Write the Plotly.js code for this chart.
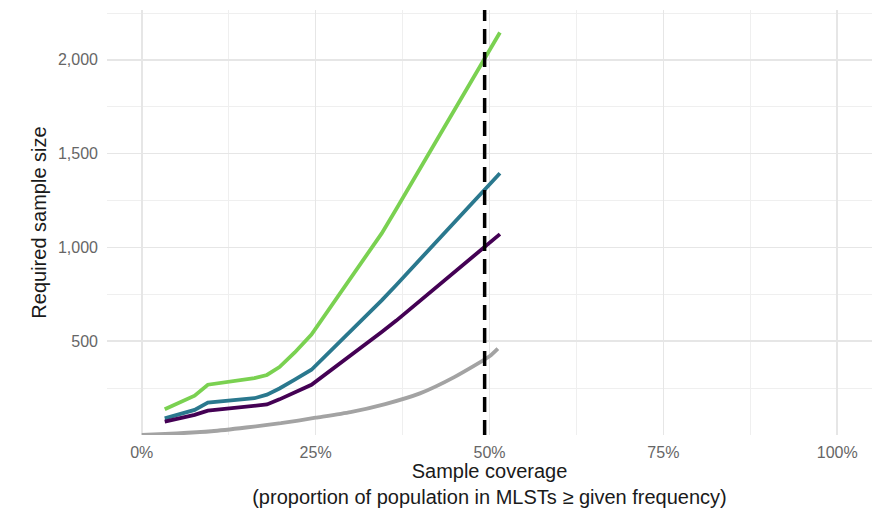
<!DOCTYPE html>
<html>
<head>
<meta charset="utf-8">
<script src="https://cdn.plot.ly/plotly-3.0.1.min.js"></script>
<style>html,body{margin:0;padding:0;background:#fff;}#chart{width:882px;height:508px;}</style>
</head>
<body>
<div id="chart"></div>
<script>
// Coverage (x) for the three coloured series
const coverage = [0.033, 0.076, 0.095, 0.162, 0.180, 0.198, 0.220, 0.244, 0.345, 0.366, 0.515];
const seriesGreen  = [137, 210, 268, 303, 320, 362, 440, 536, 1075, 1205, 2146];
const seriesTeal   = [89, 134, 173, 196, 215, 248, 295, 348, 718, 800, 1396];
const seriesPurple = [71, 107, 130, 152, 163, 190, 228, 268, 549, 610, 1071];

// Grey reference curve
const coverageGrey = [0, 0.05, 0.10, 0.15, 0.20, 0.25, 0.30, 0.35, 0.40, 0.45, 0.50, 0.512];
const seriesGrey   = [0, 8, 20, 40, 63, 92, 122, 165, 222, 310, 420, 461];

// Dashed reference line position
const cutoff = [0.493];

const xTickVals = [0, 0.25, 0.5, 0.75, 1];
const xTickText = ['0%', '25%', '50%', '75%', '100%'];
const xMinor = [0.125, 0.375, 0.625, 0.875];
const yTickVals = [500, 1000, 1500, 2000];
const yTickText = ['500', '1,000', '1,500', '2,000'];
const yMinor = [250, 750, 1250, 1750, 2250];

const font = '"Liberation Sans", Arial, Helvetica, sans-serif';

const traces = [
  {x: coverageGrey, y: seriesGrey, mode: 'lines', line: {color: '#A3A3A3', width: 3.8, shape: 'spline', smoothing: 0.6}, showlegend: false, hoverinfo: 'skip'},
  {x: coverage, y: seriesGreen, mode: 'lines', line: {color: '#7AD151', width: 3.8}, showlegend: false},
  {x: coverage, y: seriesTeal, mode: 'lines', line: {color: '#2A788E', width: 3.8}, showlegend: false},
  {x: coverage, y: seriesPurple, mode: 'lines', line: {color: '#440154', width: 3.8}, showlegend: false}
];

const layout = {
  width: 882, height: 508,
  margin: {l: 107, r: 10, t: 10, b: 73},
  paper_bgcolor: '#fff', plot_bgcolor: '#fff',
  font: {family: font},
  showlegend: false,
  xaxis: {
    range: [-0.05, 1.05],
    tickmode: 'array', tickvals: xTickVals, ticktext: xTickText,
    tickfont: {size: 16, color: '#666666'},
    ticks: '', ticklabelstandoff: 6,
    showgrid: true, gridcolor: '#E6E6E6', gridwidth: 1.6,
    minor: {tickmode: 'array', tickvals: xMinor, showgrid: true, gridcolor: '#EFEFEF', gridwidth: 1},
    zeroline: false, showline: false,
    title: {text: 'Sample coverage<br>(proportion of population in MLSTs ≥ given frequency)', font: {size: 20, color: '#1a1a1a'}, standoff: 6},
    automargin: false
  },
  yaxis: {
    range: [0, 2266],
    tickmode: 'array', tickvals: yTickVals, ticktext: yTickText,
    tickfont: {size: 16, color: '#666666'},
    ticks: '', ticklabelstandoff: 8,
    showgrid: true, gridcolor: '#E6E6E6', gridwidth: 1.6,
    minor: {tickmode: 'array', tickvals: yMinor, showgrid: true, gridcolor: '#EFEFEF', gridwidth: 1},
    zeroline: false, showline: false,
    title: {text: 'Required sample size', font: {size: 20, color: '#1a1a1a'}, standoff: 5},
    automargin: false
  },
  shapes: [{
    type: 'line', xref: 'x', yref: 'paper',
    x0: cutoff[0], x1: cutoff[0], y0: 0, y1: 1,
    line: {color: '#000', width: 3.5, dash: '15px,8px'}
  }]
};

Plotly.newPlot('chart', traces, layout, {staticPlot: true, displayModeBar: false});
</script>
</body>
</html>
